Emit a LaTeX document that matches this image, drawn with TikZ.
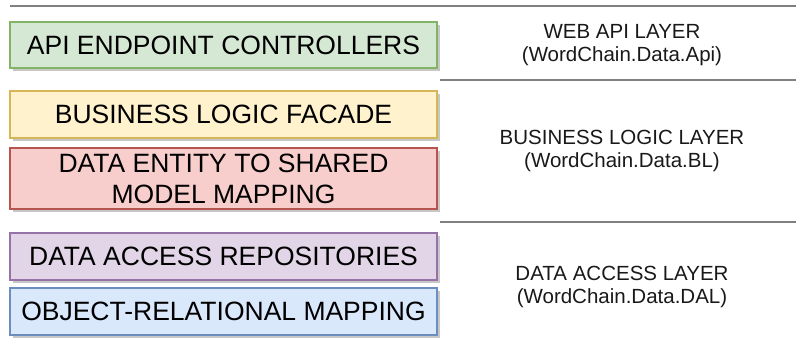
\documentclass[tikz,border=0pt]{standalone}
\usepackage{fontspec}
\setmainfont{Liberation Sans}
\usetikzlibrary{shadows}

\definecolor{greenfill}{HTML}{D5E8D4}
\definecolor{greenline}{HTML}{82B366}
\definecolor{yellowfill}{HTML}{FFF2CC}
\definecolor{yellowline}{HTML}{D6B656}
\definecolor{redfill}{HTML}{F8CECC}
\definecolor{redline}{HTML}{B85450}
\definecolor{purplefill}{HTML}{E1D5E7}
\definecolor{purpleline}{HTML}{9673A6}
\definecolor{bluefill}{HTML}{DAE8FC}
\definecolor{blueline}{HTML}{6C8EBF}
\definecolor{sepline}{HTML}{808080}

\tikzset{
    layerbox/.style={draw, line width=1.6pt, minimum width=427pt, inner sep=0pt,
        align=center, font=\fontsize{26.5}{31}\selectfont,
        drop shadow={shadow xshift=3pt, shadow yshift=-3pt, opacity=1, fill=black!22}},
    layername/.style={align=center, font=\fontsize{20.5}{23.5}\selectfont, text=black!90},
    sep/.style={draw=sepline, line width=2pt}
}

\begin{document}
\begin{tikzpicture}[x=1pt,y=-1pt]
    \useasboundingbox (0,0) rectangle (796,351);
    % separators
    \draw[sep] (10,6) -- (796,6);
    \draw[sep] (440,80) -- (796,80);
    \draw[sep] (440,222) -- (796,222);
    % components
    \node[layerbox, fill=greenfill, draw=greenline, minimum height=46pt] (api) at (223.5,45) {API ENDPOINT CONTROLLERS};
    \node[layerbox, fill=yellowfill, draw=yellowline, minimum height=47pt] (facade) at (223.5,114.5) {BUSINESS LOGIC FACADE};
    \node[layerbox, fill=redfill, draw=redline, minimum height=61pt] (mapping) at (223.5,178.5) {DATA ENTITY TO SHARED\\MODEL MAPPING};
    \node[layerbox, fill=purplefill, draw=purpleline, minimum height=47pt] (repos) at (223.5,256.5) {DATA ACCESS REPOSITORIES};
    \node[layerbox, fill=bluefill, draw=blueline, minimum height=47pt] (orm) at (223.5,311.5) {OBJECT-RELATIONAL MAPPING};
    % layers
    \node[layername] (weblayer) at (622,45) {WEB API LAYER\\(WordChain.Data.Api)};
    \node[layername] (bllayer) at (622,151) {BUSINESS LOGIC LAYER\\(WordChain.Data.BL)};
    \node[layername] (dallayer) at (622,287) {DATA ACCESS LAYER\\(WordChain.Data.DAL)};
\end{tikzpicture}
\end{document}
